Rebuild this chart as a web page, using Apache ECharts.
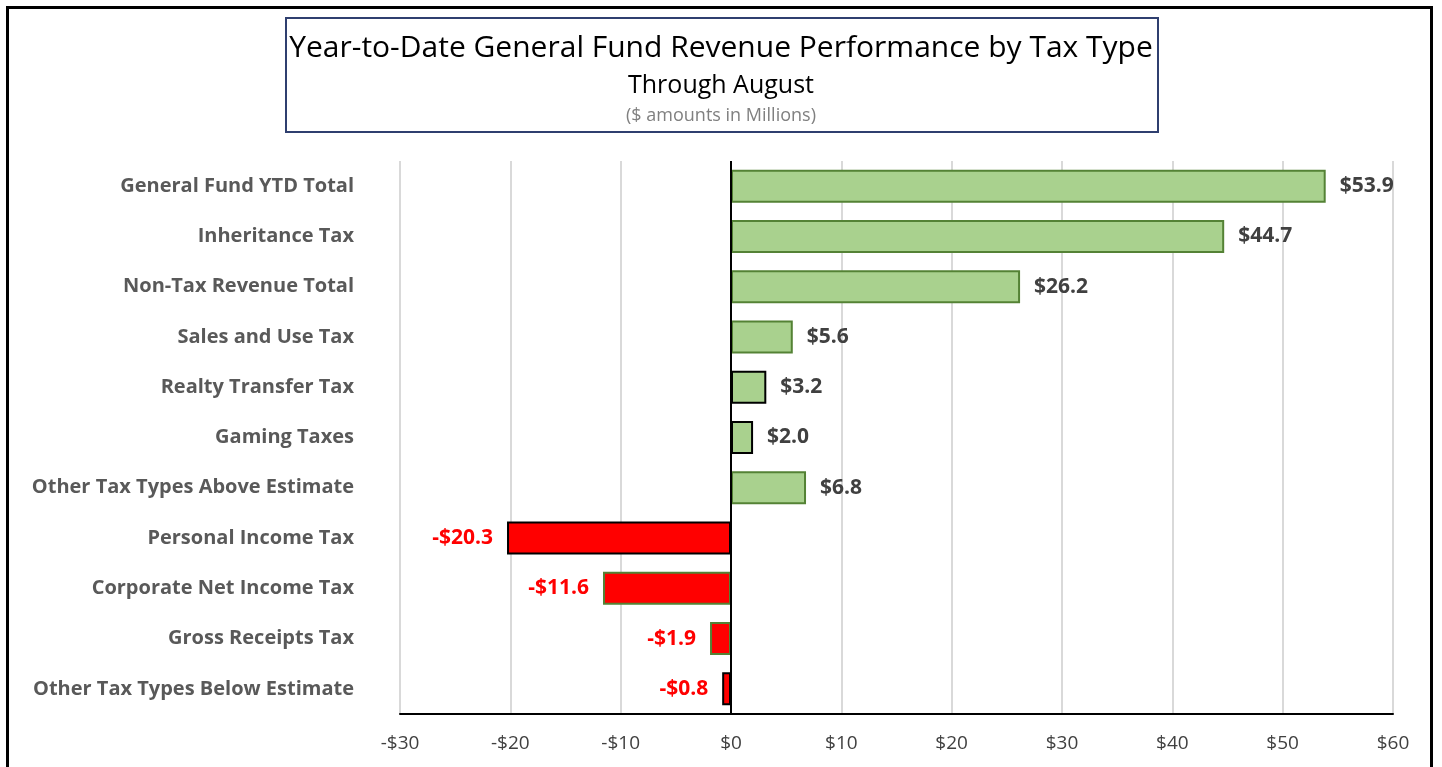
<!DOCTYPE html>
<html>
<head>
<meta charset="utf-8">
<script src="https://cdn.jsdelivr.net/npm/echarts@6/dist/echarts.min.js"></script>
<style>
  html, body { margin: 0; padding: 0; background: #fff; }
  #frame { position: absolute; left: 6px; top: 6px; width: 1427px; height: 800px; border: 3px solid #000; box-sizing: border-box; }
  #chart { position: absolute; left: 0; top: 0; width: 1442px; height: 767px; }
</style>
</head>
<body>
<div id="chart"></div>
<div id="frame"></div>
<script>
// categories, top to bottom
const categories = [
  'General Fund YTD Total',
  'Inheritance Tax',
  'Non-Tax Revenue Total',
  'Sales and Use Tax',
  'Realty Transfer Tax',
  'Gaming Taxes',
  'Other Tax Types Above Estimate',
  'Personal Income Tax',
  'Corporate Net Income Tax',
  'Gross Receipts Tax',
  'Other Tax Types Below Estimate'
]
const variance = [53.9, 44.7, 26.2, 5.6, 3.2, 2.0, 6.8, -20.3, -11.6, -1.9, -0.8]

// x axis ticks (millions)
const xMin = -30
const xMax = 60
const xStep = 10

// outline colour per bar (some bars are drawn with a black edge)
const edgeColors = ['#548235', '#548235', '#548235', '#548235', '#000000', '#000000',
  '#548235', '#000000', '#548235', '#548235', '#000000']

const FONT = 'Open Sans'

function money(v) {
  return (v < 0 ? '-$' : '$') + Math.abs(v).toFixed(1)
}

const chart = echarts.init(document.getElementById('chart'), null, { renderer: 'canvas' })

chart.setOption({
  animation: false,
  textStyle: { fontFamily: FONT },
  graphic: [
    {
      type: 'rect',
      shape: { x: 286, y: 18, width: 872, height: 114 },
      style: { fill: '#fff', stroke: '#2F3F6F', lineWidth: 2 }
    },
    {
      type: 'text', x: 721, y: 48,
      style: { text: 'Year-to-Date General Fund Revenue Performance by Tax Type', fill: '#000',
        font: '30px "' + FONT + '"', align: 'center', verticalAlign: 'middle' }
    },
    {
      type: 'text', x: 721, y: 86,
      style: { text: 'Through August', fill: '#000',
        font: '25px "' + FONT + '"', align: 'center', verticalAlign: 'middle' }
    },
    {
      type: 'text', x: 721, y: 116,
      style: { text: '($ amounts in Millions)', fill: '#808080',
        font: '18px "' + FONT + '"', align: 'center', verticalAlign: 'middle' }
    }
  ],
  grid: { left: 400, right: 49, top: 161, bottom: 53, containLabel: false },
  xAxis: {
    type: 'value',
    min: xMin,
    max: xMax,
    interval: xStep,
    axisLine: { show: true, onZero: false, lineStyle: { color: '#000', width: 2 } },
    axisTick: { show: false },
    axisLabel: {
      color: '#404040', fontSize: 19, margin: 20,
      formatter: v => (v < 0 ? '-$' : '$') + Math.abs(v)
    },
    splitLine: { show: true, lineStyle: { color: '#D9D9D9', width: 2 } }
  },
  yAxis: {
    type: 'category',
    inverse: true,
    data: categories,
    axisLine: { show: false, onZero: false },
    axisTick: { show: false },
    axisLabel: { color: '#595959', fontSize: 20, fontWeight: 'bold', margin: 46 }
  },
  series: [
    {
      type: 'bar',
      barWidth: 33,
      data: variance.map((v, i) => ({
        value: v,
        itemStyle: {
          color: v < 0 ? '#FF0000' : '#A9D18E',
          borderColor: edgeColors[i],
          borderWidth: 2
        },
        label: {
          show: true,
          position: v < 0 ? 'left' : 'right',
          distance: 14,
          color: v < 0 ? '#FF0000' : '#404040',
          fontSize: 21,
          fontWeight: 'bold',
          formatter: p => money(p.value)
        }
      })),
      markLine: {
        silent: true,
        symbol: 'none',
        label: { show: false },
        lineStyle: { color: '#000', width: 2, type: 'solid' },
        data: [{ xAxis: 0 }]
      }
    }
  ]
})
</script>
</body>
</html>
